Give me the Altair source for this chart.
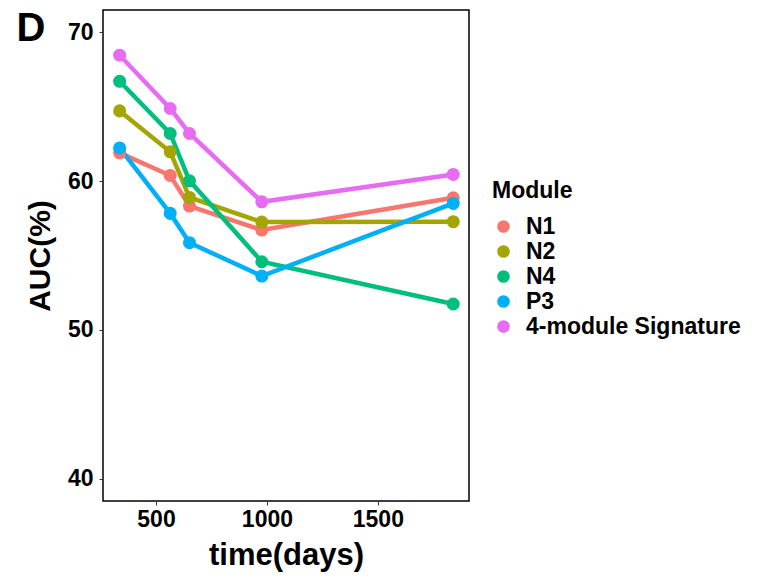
import altair as alt
import pandas as pd

days = [336, 564, 651, 977, 1840]
modules = ["N1", "N2", "N4", "P3", "4-module Signature"]
colors = ["#F8766D", "#A3A500", "#00BF7D", "#00B0F6", "#E76BF3"]
auc_n1 = [61.9, 60.38, 58.32, 56.71, 58.88]
auc_n2 = [64.72, 61.97, 58.9, 57.25, 57.27]
auc_n4 = [66.71, 63.2, 60.02, 54.58, 51.74]
auc_p3 = [62.23, 57.83, 55.86, 53.62, 58.5]
auc_sig = [68.46, 64.88, 63.2, 58.61, 60.45]

series = [auc_n1, auc_n2, auc_n4, auc_p3, auc_sig]
rows = []
for m, vals in zip(modules, series):
    for d, v in zip(days, vals):
        rows.append({"time": d, "AUC": v, "Module": m})
df = pd.DataFrame(rows)

FONT = "Liberation Sans"

x = alt.X("time:Q", title="time(days)",
          scale=alt.Scale(domain=[261, 1911], nice=False, zero=False),
          axis=alt.Axis(values=[500, 1000, 1500], format="d", grid=False, domain=False,
                        tickColor="#333333", tickSize=4, tickWidth=1,
                        labelFont=FONT, labelFontSize=23, labelFontWeight="bold",
                        labelColor="black", labelPadding=3,
                        titleFont=FONT, titleFontSize=31, titleFontWeight="bold",
                        titleColor="black", titlePadding=9))
y = alt.Y("AUC:Q", title="AUC(%)",
          scale=alt.Scale(domain=[38.5, 71.5], nice=False, zero=False),
          axis=alt.Axis(values=[40, 50, 60, 70], grid=False, domain=False,
                        tickColor="#333333", tickSize=4, tickWidth=1,
                        labelFont=FONT, labelFontSize=23, labelFontWeight="bold",
                        labelColor="black", labelPadding=6,
                        titleFont=FONT, titleFontSize=30, titleFontWeight="bold",
                        titleColor="black", titlePadding=12))
color = alt.Color("Module:N", sort=modules,
                  scale=alt.Scale(domain=modules, range=colors),
                  legend=alt.Legend(orient="none", legendX=389, legendY=170,
                                    title="Module", titleFont=FONT, titleFontSize=23,
                                    titleFontWeight="bold", titleColor="black",
                                    titlePadding=12,
                                    labelFont=FONT, labelFontSize=23,
                                    labelFontWeight="bold", labelColor="black",
                                    labelLimit=0,
                                    symbolType="circle", symbolSize=160,
                                    symbolStrokeWidth=0, symbolOpacity=1,
                                    rowPadding=1, labelOffset=11))

base = alt.Chart(df)
lines = base.mark_line(strokeWidth=4.5).encode(x=x, y=y, color=color, detail="Module:N",
                                               order="time:Q")
points = base.mark_circle(size=170, opacity=1).encode(x=x, y=y, color=color)

label_df = pd.DataFrame({"t": ["D"]})
panel = alt.Chart(label_df).mark_text(font=FONT, fontSize=40, fontWeight="bold",
                                      color="black", align="center", baseline="middle").encode(
    text="t:N", x=alt.value(-72), y=alt.value(19))

chart = alt.layer(lines, points, panel).properties(
    width=366, height=491,
    autosize=alt.AutoSizeParams(type="none"),
    padding={"left": 103, "top": 10, "right": 305, "bottom": 78},
    background="white",
).configure_view(stroke="black", strokeWidth=1.5)

chart.save("out.html", embed_options={"renderer": "svg", "actions": False})
